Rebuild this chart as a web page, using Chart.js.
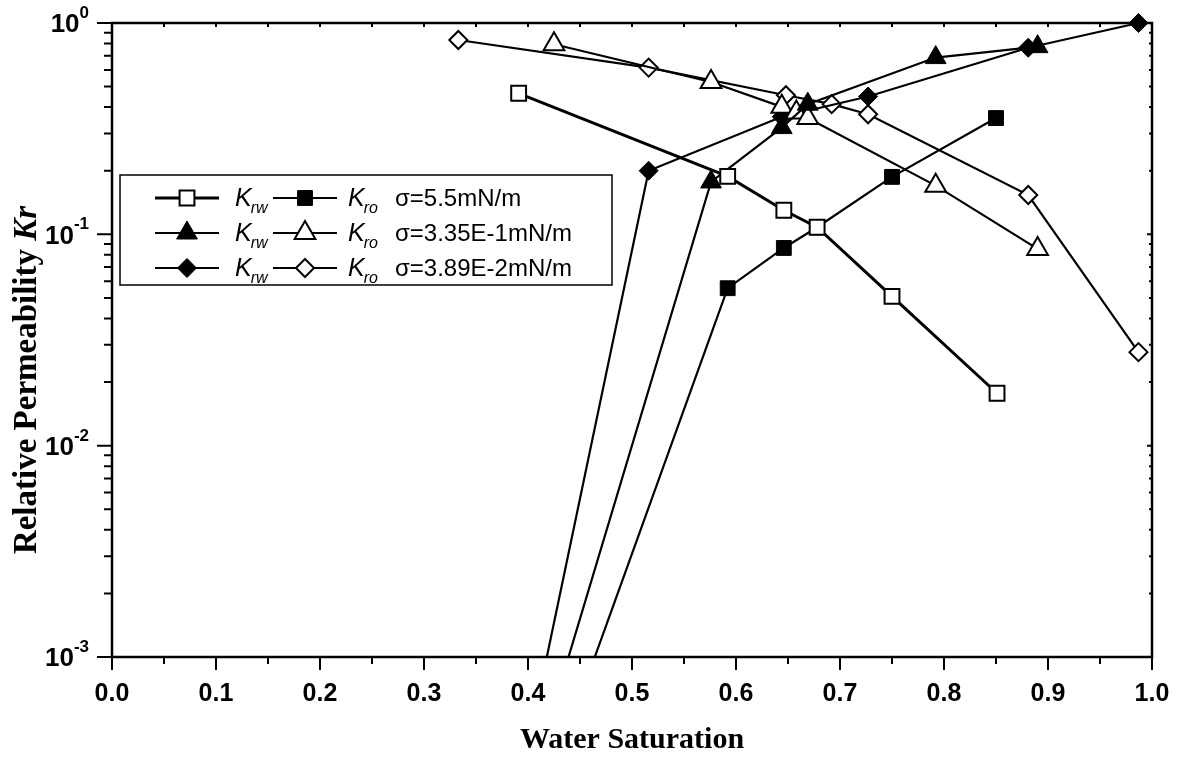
<!DOCTYPE html>
<html>
<head>
<meta charset="utf-8">
<title>Relative permeability vs water saturation</title>
<script src="https://cdn.jsdelivr.net/npm/chart.js@4.4.0/dist/chart.umd.min.js"></script>
<style>
  html, body { margin: 0; padding: 0; background: #ffffff; }
  #wrap { width: 1179px; height: 758px; }
</style>
</head>
<body>
<div id="wrap"><canvas id="chart" width="1179" height="758"></canvas></div>
<script>
// ---- Data: water saturation (Sw) and relative permeability for each curve ----
// sigma = 5.5 mN/m
const swOpenSquare   = [0.391, 0.592, 0.646, 0.678, 0.750, 0.851];
const krOpenSquare   = [0.465, 0.188, 0.130, 0.108, 0.0509, 0.0177];
const swFilledSquare = [0.391, 0.592, 0.646, 0.678, 0.750, 0.850];
const krFilledSquare = [1.0e-4, 0.0556, 0.0862, 0.108, 0.187, 0.355];
// sigma = 3.35E-1 mN/m
const swFilledTriangle = [0.425, 0.576, 0.644, 0.669, 0.792, 0.890];
const krFilledTriangle = [5.9e-4, 0.177, 0.320, 0.413, 0.686, 0.773];
const swOpenTriangle   = [0.425, 0.576, 0.644, 0.658, 0.669, 0.792, 0.890];
const krOpenTriangle   = [0.793, 0.526, 0.401, 0.377, 0.355, 0.170, 0.0853];
// sigma = 3.89E-2 mN/m
const swFilledDiamond = [0.333, 0.516, 0.644, 0.727, 0.881, 0.987];
const krFilledDiamond = [1.0e-5, 0.200, 0.360, 0.449, 0.764, 1.0];
const swOpenDiamond   = [0.333, 0.516, 0.648, 0.692, 0.727, 0.881, 0.987];
const krOpenDiamond   = [0.831, 0.615, 0.455, 0.413, 0.370, 0.1535, 0.0277];

// ---- Axis ticks ----
const xTickValues = [0.0, 0.1, 0.2, 0.3, 0.4, 0.5, 0.6, 0.7, 0.8, 0.9, 1.0];
const xTickLabels = ['0.0', '0.1', '0.2', '0.3', '0.4', '0.5', '0.6', '0.7', '0.8', '0.9', '1.0'];
const yTickValues = [1e-3, 1e-2, 1e-1, 1];
const yTickExponents = ['-3', '-2', '-1', '0'];

// ---- Legend text ----
const legendSigma = ['\u03C3=5.5mN/m', '\u03C3=3.35E-1mN/m', '\u03C3=3.89E-2mN/m'];
const legendLeftSub = 'rw';
const legendRightSub = 'ro';

const xTitle = 'Water Saturation';
const yTitleMain = 'Relative Permeability ';
const yTitleItalic = 'Kr';

const SANS = '"Liberation Sans", Arial, Helvetica, sans-serif';
const SERIF = '"Liberation Serif", "Times New Roman", Times, serif';

function pts(xs, ys) { return xs.map((x, i) => ({ x: x, y: ys[i] })); }

function series(label, xs, ys, style, radius, filled, lineWidth) {
  return {
    label: label,
    data: pts(xs, ys),
    showLine: true,
    tension: 0,
    borderColor: '#000',
    borderWidth: lineWidth,
    backgroundColor: filled ? '#000' : '#fff',
    pointStyle: style,
    pointRadius: radius,
    pointHoverRadius: radius,
    pointBackgroundColor: filled ? '#000' : '#fff',
    pointBorderColor: '#000',
    pointBorderWidth: filled ? 1 : 2,
    clip: { left: 30, top: 30, right: 30, bottom: 0 }
  };
}

const datasets = [
  series('K_rw 5.5', swOpenSquare, krOpenSquare, 'rect', 10.5, false, 3),
  series('K_ro 5.5', swFilledSquare, krFilledSquare, 'rect', 10.5, true, 2.2),
  series('K_rw 3.35E-1', swFilledTriangle, krFilledTriangle, 'triangle', 12, true, 2.2),
  series('K_ro 3.35E-1', swOpenTriangle, krOpenTriangle, 'triangle', 12, false, 2.2),
  series('K_rw 3.89E-2', swFilledDiamond, krFilledDiamond, 'rectRot', 9.5, true, 2.2),
  series('K_ro 3.89E-2', swOpenDiamond, krOpenDiamond, 'rectRot', 9, false, 2.2)
];

// legend rows: [left dataset index, right dataset index]
const legendPairs = [[0, 1], [2, 3], [4, 5]];

function drawMarker(ctx, ds, x, y) {
  ctx.save();
  ctx.fillStyle = ds.pointBackgroundColor;
  ctx.strokeStyle = ds.pointBorderColor;
  ctx.lineWidth = ds.pointBorderWidth;
  Chart.helpers.drawPoint(ctx, {
    pointStyle: ds.pointStyle,
    radius: ds.pointRadius,
    rotation: 0,
    borderWidth: ds.pointBorderWidth
  }, x, y);
  ctx.restore();
}

// Frame, ticks and tick labels (drawn under the data)
const framePlugin = {
  id: 'frame',
  beforeDatasetsDraw(chart) {
    const ctx = chart.ctx;
    const a = chart.chartArea;
    const xs = chart.scales.x, ys = chart.scales.y;
    ctx.save();
    ctx.strokeStyle = '#000';
    ctx.lineWidth = 2.5;
    ctx.strokeRect(a.left, a.top, a.right - a.left, a.bottom - a.top);

    ctx.lineWidth = 2;
    ctx.beginPath();
    // bottom ticks: major every 0.1, minor in between (outward)
    for (let i = 0; i <= 20; i++) {
      const px = xs.getPixelForValue(i * 0.05);
      const len = (i % 2 === 0) ? 13 : 7;
      ctx.moveTo(px, a.bottom); ctx.lineTo(px, a.bottom + len);
      // top ticks (inward, short)
      if (i > 0 && i < 20) { ctx.moveTo(px, a.top); ctx.lineTo(px, a.top + 4); }
    }
    // left ticks: decades major, 2..9 minor (outward); right ticks inward
    for (let d = -3; d <= 0; d++) {
      const base = Math.pow(10, d);
      const py = ys.getPixelForValue(base);
      ctx.moveTo(a.left, py); ctx.lineTo(a.left - 15, py);
      ctx.moveTo(a.right, py); ctx.lineTo(a.right - 5, py);
      if (d < 0) {
        for (let m = 2; m <= 9; m++) {
          const my = ys.getPixelForValue(base * m);
          ctx.moveTo(a.left, my); ctx.lineTo(a.left - 8, my);
          ctx.moveTo(a.right, my); ctx.lineTo(a.right - 3, my);
        }
      }
    }
    ctx.stroke();

    // x tick labels
    ctx.fillStyle = '#000';
    ctx.font = 'bold 25px ' + SANS;
    ctx.textAlign = 'center';
    ctx.textBaseline = 'middle';
    xTickValues.forEach((v, i) => {
      ctx.fillText(xTickLabels[i], xs.getPixelForValue(v), 694);
    });

    // y tick labels: 10 with superscript exponent
    ctx.textAlign = 'left';
    yTickValues.forEach((v, i) => {
      const py = ys.getPixelForValue(v);
      ctx.font = 'bold 17px ' + SANS;
      const ew = ctx.measureText(yTickExponents[i]).width;
      ctx.font = 'bold 26px ' + SANS;
      const bw = ctx.measureText('10').width;
      const right = 89;
      ctx.textBaseline = 'middle';
      ctx.fillText('10', right - ew - bw, py + 2);
      ctx.font = 'bold 17px ' + SANS;
      ctx.textBaseline = 'alphabetic';
      ctx.fillText(yTickExponents[i], right - ew, py - 5);
    });

    // axis titles
    ctx.font = 'bold 30px ' + SERIF;
    ctx.textAlign = 'center';
    ctx.textBaseline = 'alphabetic';
    ctx.fillText(xTitle, (a.left + a.right) / 2, 748);

    ctx.save();
    ctx.translate(36, 380);
    ctx.rotate(-Math.PI / 2);
    ctx.font = 'bold 33px ' + SERIF;
    const w1 = ctx.measureText(yTitleMain).width;
    ctx.font = 'italic bold 33px ' + SERIF;
    const w2 = ctx.measureText(yTitleItalic).width;
    ctx.textAlign = 'left';
    ctx.font = 'bold 33px ' + SERIF;
    ctx.fillText(yTitleMain, -(w1 + w2) / 2, 0);
    ctx.font = 'italic bold 33px ' + SERIF;
    ctx.fillText(yTitleItalic, -(w1 + w2) / 2 + w1, 0);
    ctx.restore();

    ctx.restore();
  }
};

// Legend box with paired symbols per row
const legendPlugin = {
  id: 'pairLegend',
  afterDraw(chart) {
    const ctx = chart.ctx;
    const dsets = chart.data.datasets;
    const box = { x: 120, y: 175, w: 492, h: 110 };
    const rowY = [198, 233, 268];
    ctx.save();
    ctx.fillStyle = '#fff';
    ctx.fillRect(box.x, box.y, box.w, box.h);
    ctx.strokeStyle = '#000';
    ctx.lineWidth = 1.5;
    ctx.strokeRect(box.x, box.y, box.w, box.h);

    legendPairs.forEach((pair, r) => {
      const y = rowY[r];
      const symbols = [
        { ds: dsets[pair[0]], x0: 155, x1: 219, kx: 235, sub: legendLeftSub },
        { ds: dsets[pair[1]], x0: 273, x1: 337, kx: 348, sub: legendRightSub }
      ];
      symbols.forEach(s => {
        ctx.strokeStyle = '#000';
        ctx.lineWidth = s.ds.borderWidth;
        ctx.beginPath();
        ctx.moveTo(s.x0, y); ctx.lineTo(s.x1, y);
        ctx.stroke();
        drawMarker(ctx, s.ds, (s.x0 + s.x1) / 2, y);
        ctx.fillStyle = '#000';
        ctx.textAlign = 'left';
        ctx.textBaseline = 'alphabetic';
        ctx.font = 'italic 25px ' + SANS;
        ctx.fillText('K', s.kx, y + 8);
        const kw = ctx.measureText('K').width;
        ctx.font = 'italic 16px ' + SANS;
        ctx.fillText(s.sub, s.kx + kw - 1, y + 15);
      });
      ctx.font = '24px ' + SANS;
      ctx.fillText(legendSigma[r], 395, y + 8);
    });
    ctx.restore();
  }
};

new Chart(document.getElementById('chart'), {
  type: 'scatter',
  data: { datasets: datasets },
  options: {
    responsive: false,
    animation: false,
    devicePixelRatio: 1,
    events: [],
    layout: { padding: { left: 112, top: 23, right: 27, bottom: 101 } },
    plugins: { legend: { display: false }, tooltip: { enabled: false } },
    scales: {
      x: {
        type: 'linear', min: 0, max: 1,
        grid: { display: false }, border: { display: false },
        ticks: { display: false },
        afterFit(scale) { scale.height = 0; }
      },
      y: {
        type: 'logarithmic', min: 1e-3, max: 1,
        grid: { display: false }, border: { display: false },
        ticks: { display: false },
        afterFit(scale) { scale.width = 0; }
      }
    }
  },
  plugins: [framePlugin, legendPlugin]
});
</script>
</body>
</html>
